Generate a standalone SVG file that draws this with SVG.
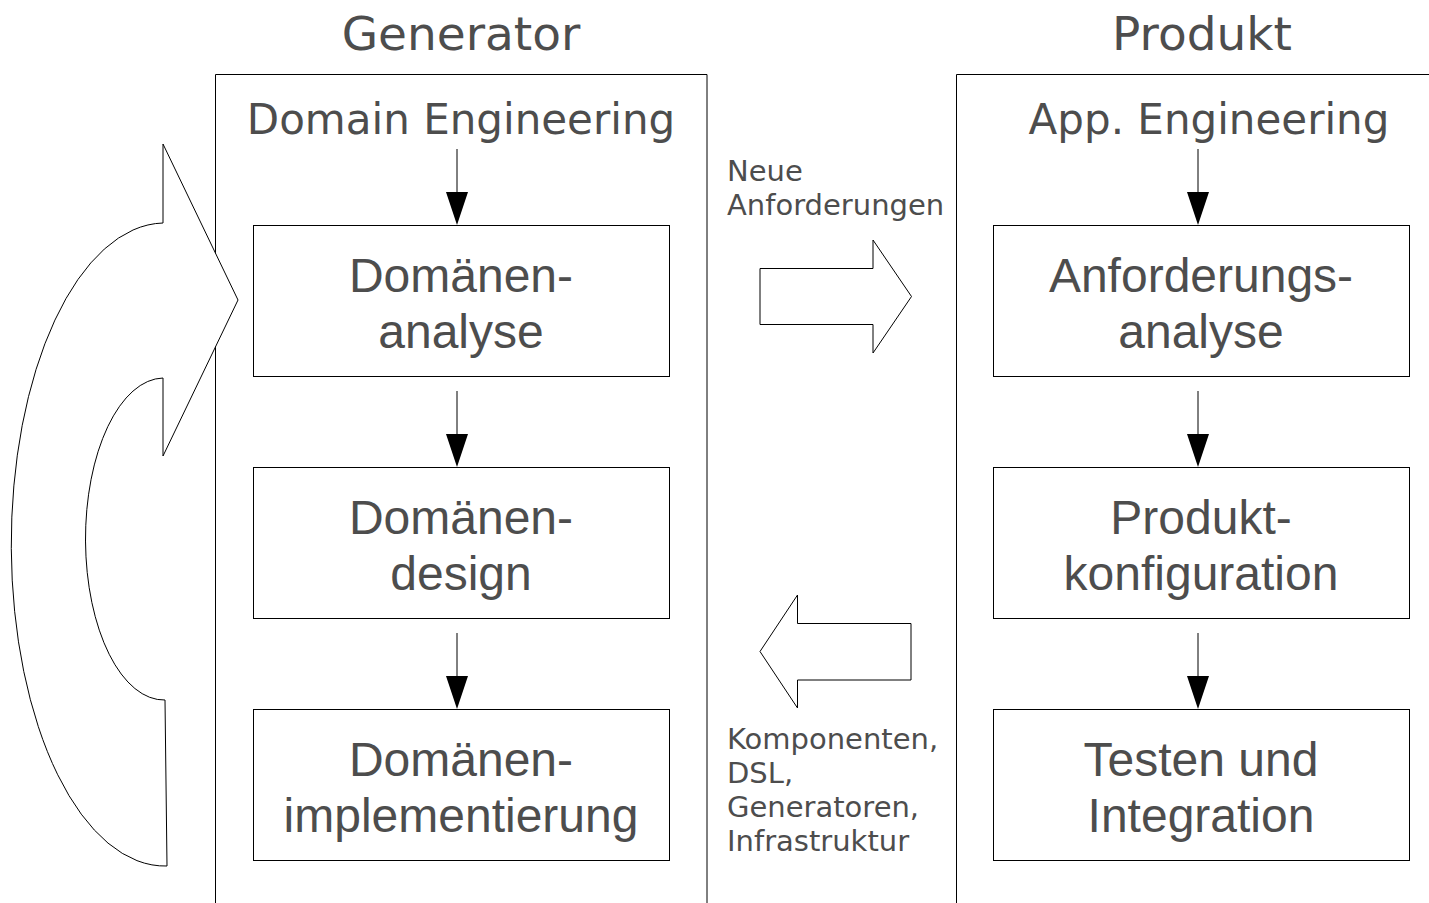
<svg xmlns="http://www.w3.org/2000/svg" width="1429" height="903" viewBox="0 0 1429 903">
<style>
.frame{fill:none;stroke:#000;stroke-width:1}
.box{fill:#fff;stroke:#000;stroke-width:1}
.line{stroke:#000;stroke-width:1}
.head{fill:#000}
.blk{fill:#fff;stroke:#000;stroke-width:1;stroke-linejoin:miter}
.hdr{font-family:"DejaVu Sans",sans-serif;font-size:47px;fill:#4d4d4d;text-anchor:middle}
.sub{font-family:"DejaVu Sans",sans-serif;font-size:42px;fill:#4d4d4d;text-anchor:middle}
.lbl{font-family:"DejaVu Sans",sans-serif;font-size:29px;fill:#4d4d4d}
.bt{font-family:"Liberation Sans",Arial,sans-serif;font-size:48px;fill:#4d4d4d;text-anchor:middle}
</style>
<rect width="1429" height="903" fill="#fff"/>
<g id="generator">
<text class="hdr" x="461" y="50">Generator</text>
<path class="frame" d="M215.5 903 V74.5 H707 V903"/>
<text class="sub" x="461" y="134">Domain Engineering</text>
</g>
<g id="produkt">
<text class="hdr" x="1202" y="50">Produkt</text>
<path class="frame" d="M956.5 903 V74.5 H1430"/>
<text class="sub" x="1209" y="134">App. Engineering</text>
</g>
<g id="loop">
<path class="blk" d="M163 223 L163 144 L238 300 L163 456 L163 378 A78 160 0 0 0 165 700 L167 866 A153 320 0 0 1 163 223 Z"/>
</g>
<g id="domaenenanalyse">
<rect class="box" x="253.5" y="225.5" width="416" height="151"/>
<text class="bt" x="461" y="292">Domänen-</text>
<text class="bt" x="461" y="348">analyse</text>
</g>
<g id="domaenendesign">
<rect class="box" x="253.5" y="467.5" width="416" height="151"/>
<text class="bt" x="461" y="534">Domänen-</text>
<text class="bt" x="461" y="590">design</text>
</g>
<g id="domaenenimplementierung">
<rect class="box" x="253.5" y="709.5" width="416" height="151"/>
<text class="bt" x="461" y="776">Domänen-</text>
<text class="bt" x="461" y="832">implementierung</text>
</g>
<g id="anforderungsanalyse">
<rect class="box" x="993.5" y="225.5" width="416" height="151"/>
<text class="bt" x="1201" y="292">Anforderungs-</text>
<text class="bt" x="1201" y="348">analyse</text>
</g>
<g id="produktkonfiguration">
<rect class="box" x="993.5" y="467.5" width="416" height="151"/>
<text class="bt" x="1201" y="534">Produkt-</text>
<text class="bt" x="1201" y="590">konfiguration</text>
</g>
<g id="testen">
<rect class="box" x="993.5" y="709.5" width="416" height="151"/>
<text class="bt" x="1201" y="776">Testen und</text>
<text class="bt" x="1201" y="832">Integration</text>
</g>
<g id="neue-anforderungen">
<path class="blk" d="M760 268.5 H873 V240 L911.5 296.5 L873 353 V324.5 H760 Z"/>
<text class="lbl" x="727" y="181">Neue</text>
<text class="lbl" x="727" y="215">Anforderungen</text>
</g>
<g id="komponenten">
<path class="blk" d="M911 623.5 H797.5 V595 L760 651.5 L797.5 708 V680 H911 Z"/>
<text class="lbl" x="727" y="749">Komponenten,</text>
<text class="lbl" x="727" y="783">DSL,</text>
<text class="lbl" x="727" y="817">Generatoren,</text>
<text class="lbl" x="727" y="851">Infrastruktur</text>
</g>
<g id="connectors">
<line class="line" x1="457" y1="149" x2="457" y2="193"/>
<polygon class="head" points="446,192 468,192 457,225"/>
<line class="line" x1="457" y1="391" x2="457" y2="435"/>
<polygon class="head" points="446,434 468,434 457,467"/>
<line class="line" x1="457" y1="633" x2="457" y2="677"/>
<polygon class="head" points="446,676 468,676 457,709"/>
<line class="line" x1="1198" y1="149" x2="1198" y2="193"/>
<polygon class="head" points="1187,192 1209,192 1198,225"/>
<line class="line" x1="1198" y1="391" x2="1198" y2="435"/>
<polygon class="head" points="1187,434 1209,434 1198,467"/>
<line class="line" x1="1198" y1="633" x2="1198" y2="677"/>
<polygon class="head" points="1187,676 1209,676 1198,709"/>
</g>
</svg>
